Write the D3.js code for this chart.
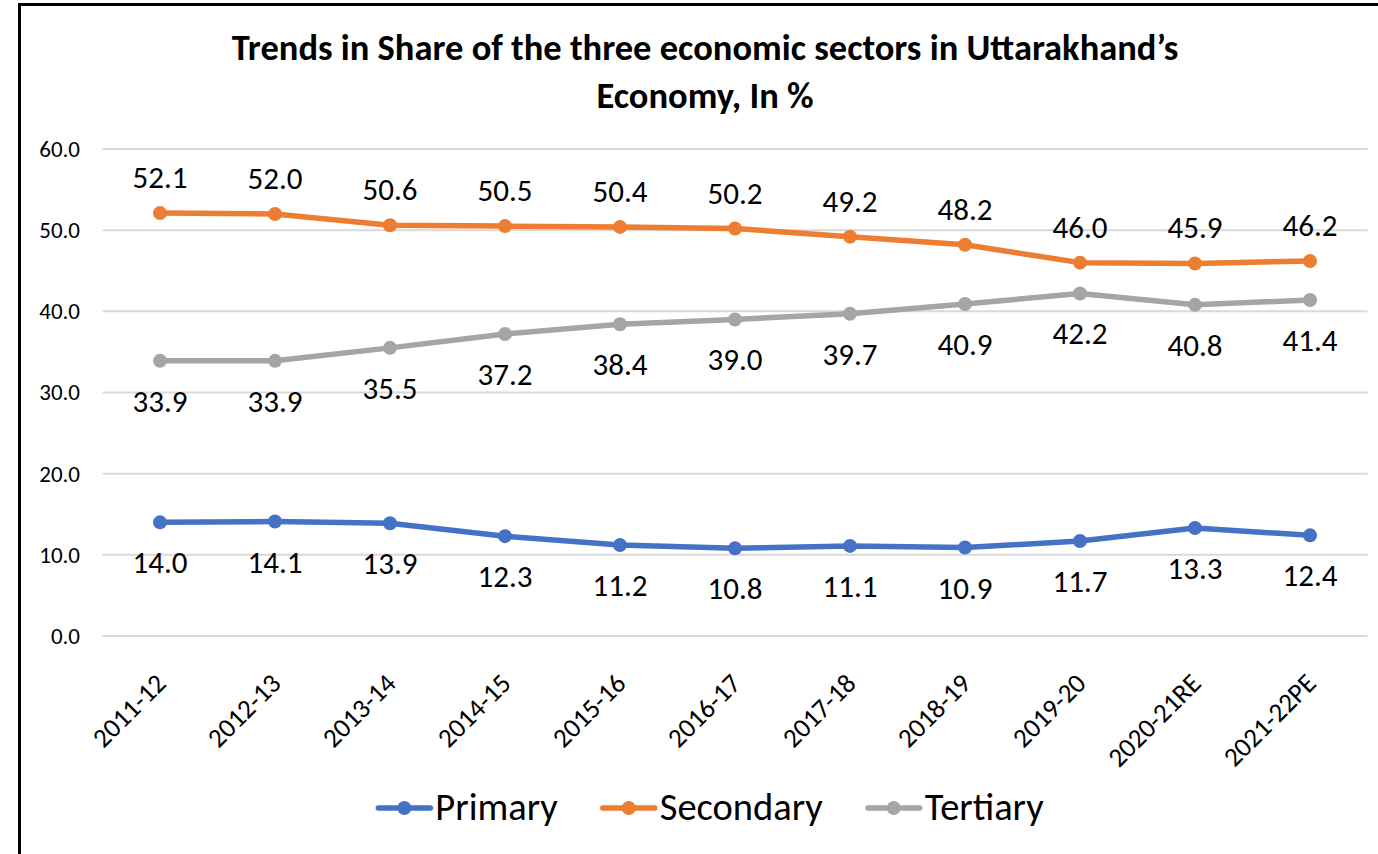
<!DOCTYPE html>
<html>
<head>
<meta charset="utf-8">
<script src="https://cdn.jsdelivr.net/npm/d3@7"></script>
<style>
  body { margin: 0; background: #fff; }
  svg { display: block; font-family: Carlito, Calibri, "Liberation Sans", sans-serif; }
</style>
</head>
<body>
<div id="chart"></div>
<script>
const years = ["2011-12", "2012-13", "2013-14", "2014-15", "2015-16", "2016-17",
    "2017-18", "2018-19", "2019-20", "2020-21RE", "2021-22PE"];
const primary = [14.0, 14.1, 13.9, 12.3, 11.2, 10.8, 11.1, 10.9, 11.7, 13.3, 12.4];
const secondary = [52.1, 52.0, 50.6, 50.5, 50.4, 50.2, 49.2, 48.2, 46.0, 45.9, 46.2];
const tertiary = [33.9, 33.9, 35.5, 37.2, 38.4, 39.0, 39.7, 40.9, 42.2, 40.8, 41.4];
const yTicks = [0, 10, 20, 30, 40, 50, 60];

const series = [
    {name: "Primary", values: primary, color: "#4472C4", pos: "below"},
    {name: "Secondary", values: secondary, color: "#ED7D31", pos: "above"},
    {name: "Tertiary", values: tertiary, color: "#A5A5A5", pos: "below"}
];

const width = 1378, height = 854;
const plot = {left: 102.5, right: 1367.5, top: 149, bottom: 636};

const svg = d3.select("#chart").append("svg")
    .attr("width", width)
    .attr("height", height);

// chart frame
svg.append("rect")
    .attr("x", 19.5).attr("y", 4.5)
    .attr("width", 1370).attr("height", 860)
    .attr("fill", "none")
    .attr("stroke", "#000")
    .attr("stroke-width", 3);

// title
svg.append("text")
    .attr("text-anchor", "middle")
    .attr("font-weight", "bold")
    .attr("font-size", 36.5)
    .selectAll("tspan")
    .data(["Trends in Share of the three economic sectors in Uttarakhand\u2019s", "Economy, In %"])
    .join("tspan")
    .attr("x", 705)
    .attr("y", (d, i) => 60 + i * 48)
    .text(d => d);

const x = d3.scalePoint(years, [plot.left, plot.right]).padding(0.5);
const y = d3.scaleLinear([0, 60], [plot.bottom, plot.top]);

// gridlines
svg.append("g")
    .selectAll("line")
    .data(yTicks)
    .join("line")
    .attr("x1", plot.left)
    .attr("x2", plot.right)
    .attr("y1", d => y(d))
    .attr("y2", d => y(d))
    .attr("stroke", "#d9d9d9")
    .attr("stroke-width", 2);

// y axis
const yAxis = svg.append("g")
    .attr("transform", "translate(80,0)")
    .call(d3.axisLeft(y).tickValues(yTicks).tickFormat(d3.format(".1f")).tickSize(0).tickPadding(0));
yAxis.select(".domain").remove();
yAxis.selectAll("text")
    .attr("font-size", 23)
    .attr("fill", "#000");
yAxis.attr("font-family", null);

// x axis labels
const xAxis = svg.append("g")
    .attr("transform", `translate(0,${plot.bottom})`)
    .call(d3.axisBottom(x).tickSize(0).tickPadding(0));
xAxis.attr("font-family", null);
xAxis.select(".domain").remove();
xAxis.selectAll("text")
    .attr("font-size", 27)
    .attr("fill", "#000")
    .attr("text-anchor", "end")
    .attr("y", 0)
    .attr("dy", null)
    .attr("transform", "translate(7,49) rotate(-45)");

const line = d3.line()
    .x((d, i) => x(years[i]))
    .y(d => y(d));

const g = svg.append("g");
series.forEach(s => {
    g.append("path")
        .attr("d", line(s.values))
        .attr("fill", "none")
        .attr("stroke", s.color)
        .attr("stroke-width", 5.5)
        .attr("stroke-linejoin", "round")
        .attr("stroke-linecap", "round");

    g.selectAll(null)
        .data(s.values)
        .join("circle")
        .attr("cx", (d, i) => x(years[i]))
        .attr("cy", d => y(d))
        .attr("r", 7)
        .attr("fill", s.color);

    g.selectAll(null)
        .data(s.values)
        .join("text")
        .attr("x", (d, i) => x(years[i]))
        .attr("y", d => y(d) + (s.pos === "above" ? -25 : 51))
        .attr("text-anchor", "middle")
        .attr("font-size", 31)
        .attr("fill", "#000")
        .text(d => d3.format(".1f")(d));
});

// legend, laid out from measured text widths and centred
const legend = svg.append("g").attr("transform", "translate(0,808)");
const items = legend.selectAll("g")
    .data(series)
    .join("g");
items.append("line")
    .attr("x1", 2).attr("x2", 54)
    .attr("stroke", d => d.color)
    .attr("stroke-width", 5.5)
    .attr("stroke-linecap", "round");
items.append("circle")
    .attr("cx", 28).attr("r", 7)
    .attr("fill", d => d.color);
items.append("text")
    .attr("x", 59)
    .attr("y", 12)
    .attr("font-size", 38.5)
    .attr("fill", "#000")
    .text(d => d.name);

const itemW = items.nodes().map(n => 59 + d3.select(n).select("text").node().getComputedTextLength());
const gap = 43;
const total = d3.sum(itemW) + gap * (itemW.length - 1);
let cursor = 710 - total / 2;
items.attr("transform", (d, i) => {
    const t = `translate(${cursor},0)`;
    cursor += itemW[i] + gap;
    return t;
});
</script>
</body>
</html>
